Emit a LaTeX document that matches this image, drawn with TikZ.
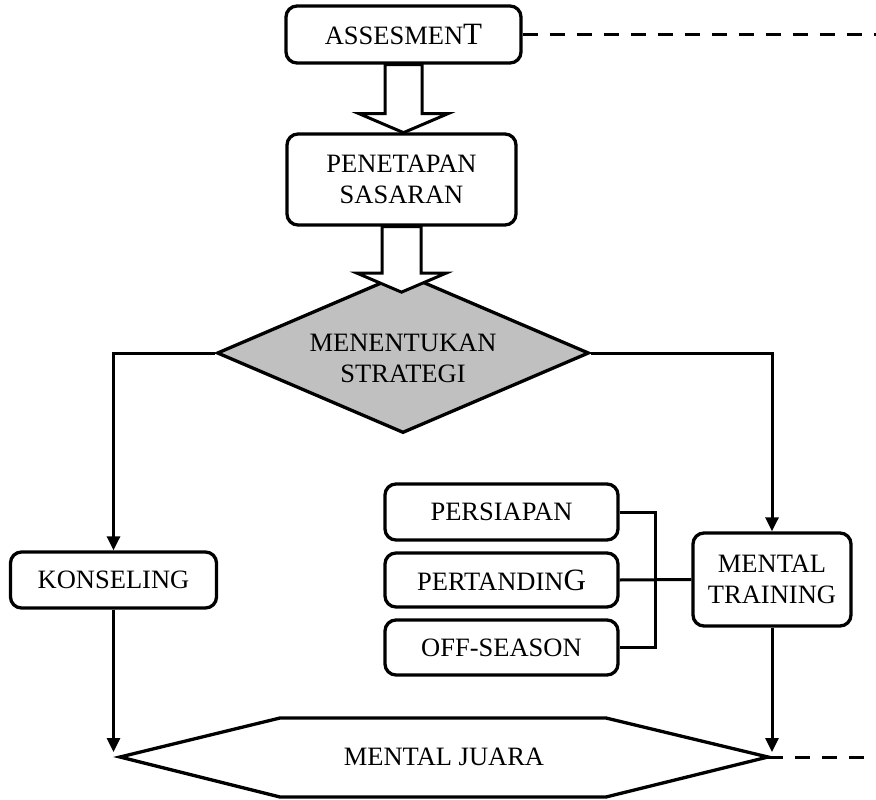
\documentclass[tikz,border=0pt]{standalone}
\usepackage{fontspec}
\setmainfont{Liberation Serif}
\usetikzlibrary{shapes.geometric,arrows.meta,calc}
\definecolor{decisiongray}{HTML}{C0C0C0}
\begin{document}
\begin{tikzpicture}[x=1pt,y=-1pt,
  txt/.style={font=\fontsize{26.5}{31}\selectfont, align=center, inner sep=0pt},
  box/.style={txt, draw, line width=3.3pt, rounded corners=11pt, fill=white},
  conn/.style={line width=3pt},
  arr/.style={conn, -{Triangle[length=14pt,width=13pt]}},
  hollow/.style={draw, line width=3pt, fill=white, line join=miter},
  dashline/.style={line width=3pt, dash pattern=on 15pt off 12pt}
]
\useasboundingbox (0,0) rectangle (876,800);
\coordinate (edgeR) at (876,0);

% main column
\node[box, minimum width=235pt, minimum height=57pt] (assess) at (403.5,34.5)
  {ASSESMEN{\fontsize{31}{31}\selectfont T}};
\node[box, minimum width=229pt, minimum height=91pt] (sasaran) at (401.5,179.5)
  {PENETAPAN\\SASARAN};
\node[draw, shape=diamond, line width=3.3pt, fill=decisiongray, inner sep=0pt,
      aspect=2.3, minimum width=372pt, minimum height=160pt] (strategi) at (403,353) {};
\node[txt] (strategitext) at (403,358) {MENENTUKAN\\STRATEGI};

% hollow block arrows between the top steps
\draw[hollow] ($(assess.south)+(-18.5,0)$) -- ++(0,49) -- ++(-26,0) -- ++(44.5,19)
  -- ++(44.5,-19) -- ++(-26,0) -- ++(0,-49) -- cycle;
\draw[hollow] ($(sasaran.south)+(-19.5,0)$) -- ++(0,46.5) -- ++(-25,0) -- ++(44.5,19)
  -- ++(44.5,-19) -- ++(-25,0) -- ++(0,-46.5) -- cycle;

% branches
\node[box, minimum width=206pt, minimum height=56pt] (konseling) at (113.5,580) {KONSELING};
\node[box, minimum width=158pt, minimum height=93pt] (mental) at (772,579.5) {MENTAL\\TRAINING};

\node[box, minimum width=233pt, minimum height=56pt] (persiapan) at (501.5,512) {PERSIAPAN};
\node[box, minimum width=233pt, minimum height=54pt] (pertanding) at (501.5,580)
  {\raisebox{-4pt}{PERTANDIN{\fontsize{31}{31}\selectfont G}}};
\node[box, minimum width=233pt, minimum height=55pt] (offseason) at (501.5,647.5) {OFF-SEASON};

% goal
\coordinate (hexL) at (120,757);
\coordinate (hexR) at (768,757);
\draw[line width=3.3pt, fill=white] (hexL) -- (280,718) -- (606,718) -- (hexR)
  -- (606,797) -- (280,797) -- cycle;
\node[txt] (juara) at (444,757) {MENTAL JUARA};

% connectors
\draw[arr] (strategi.west) -| (konseling.north);
\draw[arr] (strategi.east) -| (mental.north);
\draw[arr, shorten >=5pt] (konseling.south) -- (konseling.south |- hexL);
\draw[arr, shorten >=5pt] (mental.south) -- (mental.south |- hexR);
\draw[conn] (persiapan.east) -- ++(36,0) |- (offseason.east);
\draw[conn] (pertanding.east) -- (mental.west);

% dashed continuations
\draw[dashline] (assess.east) -- (assess.east -| edgeR);
\draw[dashline] (hexR) -- (hexR -| edgeR);
\end{tikzpicture}
\end{document}
